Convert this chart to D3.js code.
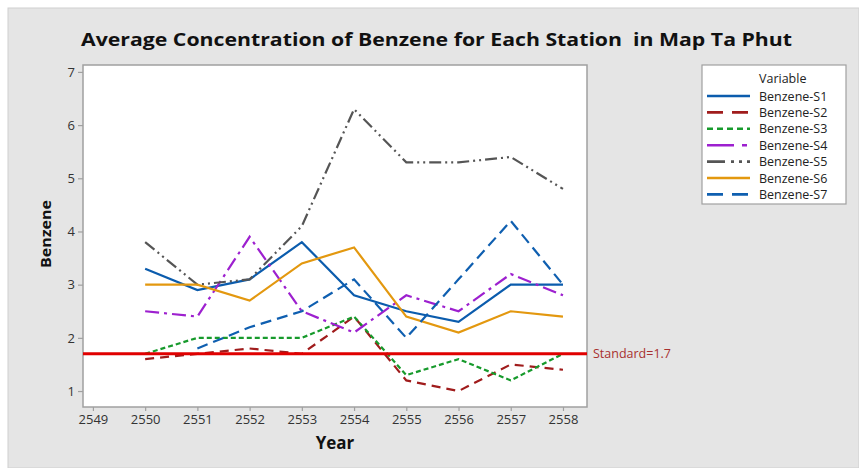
<!DOCTYPE html>
<html>
<head>
<meta charset="utf-8">
<script src="https://cdn.jsdelivr.net/npm/d3@7"></script>
<style>
  body { margin: 0; background: #fff; }
  text { font-family: "Open Sans", "Noto Sans", sans-serif; }
</style>
</head>
<body>
<script>
'use strict';

// chart values
var years = [2550, 2551, 2552, 2553, 2554, 2555, 2556, 2557, 2558];
var yearTicks = [2549, 2550, 2551, 2552, 2553, 2554, 2555, 2556, 2557, 2558];
var valueTicks = [1, 2, 3, 4, 5, 6, 7];
var seriesNames = ['Benzene-S1', 'Benzene-S2', 'Benzene-S3', 'Benzene-S4', 'Benzene-S5', 'Benzene-S6', 'Benzene-S7'];
var s1 = [3.3, 2.9, 3.1, 3.8, 2.8, 2.5, 2.3, 3.0, 3.0];
var s2 = [1.6, 1.7, 1.8, 1.7, 2.4, 1.2, 1.0, 1.5, 1.4];
var s3 = [1.7, 2.0, 2.0, 2.0, 2.4, 1.3, 1.6, 1.2, 1.7];
var s4 = [2.5, 2.4, 3.9, 2.5, 2.1, 2.8, 2.5, 3.2, 2.8];
var s5 = [3.8, 3.0, 3.1, 4.1, 6.3, 5.3, 5.3, 5.4, 4.8];
var s6 = [3.0, 3.0, 2.7, 3.4, 3.7, 2.4, 2.1, 2.5, 2.4];
var s7 = [null, 1.8, 2.2, 2.5, 3.1, 2.0, 3.1, 4.2, 3.0];
var standard = 1.7;

(function() {
    var width = 859;
    var height = 468;

    var colors = ['#0b5cad', '#a01c1c', '#179a2c', '#9d20cf', '#555555', '#e3980f', '#0f5fb0'];
    var dashes = ['none', '9,6', '5,3', '14,5,3,5', '12,4,2,4,2,4', 'none', '11,6'];
    var legendDashes = ['none', '16,9', '6,4', '27,8,5,8', '18,6,3,5,3,5', 'none', '16,9'];
    var allSeries = [s1, s2, s3, s4, s5, s6, s7];

    var svg = d3.select('body')
                .append('svg')
                .attr('width', width)
                .attr('height', height);

    // gray panel
    svg.append('rect')
        .attr('x', 8).attr('y', 8)
        .attr('width', width - 8).attr('height', height - 8)
        .attr('fill', '#e5e5e5')
        .attr('stroke', '#cfcfcf');

    var x = d3.scaleLinear().domain([2548.81, 2558.46]).range([83, 587]);
    var y = d3.scaleLinear().domain([0.7, 7.13]).range([407, 65]);

    // plot area
    svg.append('rect')
        .attr('x', x.range()[0]).attr('y', y.range()[1])
        .attr('width', x.range()[1] - x.range()[0])
        .attr('height', y.range()[0] - y.range()[1])
        .attr('fill', '#fff')
        .attr('stroke', '#a0a0a0')
        .attr('stroke-width', 1.5);

    var yAxis = svg.append('g')
        .attr('transform', 'translate(83,0)')
        .call(d3.axisLeft(y).tickValues(valueTicks).tickFormat(d3.format('d')).tickSize(5).tickPadding(3).tickSizeOuter(0));
    var xAxis = svg.append('g')
        .attr('transform', 'translate(0,407)')
        .call(d3.axisBottom(x).tickValues(yearTicks).tickFormat(d3.format('d')).tickSize(4).tickPadding(4).tickSizeOuter(0));

    [xAxis, yAxis].forEach(function(a) {
        a.select('.domain').remove();
        a.selectAll('line').attr('stroke', '#a0a0a0').attr('stroke-width', 1.2);
        a.selectAll('text').attr('fill', '#333').style('font-size', '13px');
    });

    var line = d3.line()
        .defined(function(d) { return d.v != null; })
        .x(function(d) { return x(d.year); })
        .y(function(d) { return y(d.v); });

    allSeries.forEach(function(vals, i) {
        var pts = years.map(function(yr, j) { return { year: yr, v: vals[j] }; });
        svg.append('path')
            .datum(pts)
            .attr('fill', 'none')
            .attr('stroke', colors[i])
            .attr('stroke-width', 2.2)
            .attr('stroke-dasharray', dashes[i])
            .attr('d', line);
    });

    // standard reference line
    svg.append('line')
        .attr('x1', x.range()[0]).attr('x2', x.range()[1])
        .attr('y1', y(standard)).attr('y2', y(standard))
        .attr('stroke', '#e00000')
        .attr('stroke-width', 3);
    svg.append('text')
        .attr('x', 593).attr('y', y(standard) + 4.5)
        .attr('fill', '#a8302f')
        .style('font-size', '12.5px')
        .text('Standard=' + standard);

    // legend
    var lg = svg.append('g');
    lg.append('rect')
        .attr('x', 702).attr('y', 65)
        .attr('width', 144).attr('height', 139)
        .attr('fill', '#fff')
        .attr('stroke', '#a0a0a0')
        .attr('stroke-width', 1.2);
    lg.append('text')
        .attr('x', 759).attr('y', 83)
        .attr('fill', '#222')
        .style('font-size', '12.5px')
        .text('Variable');
    seriesNames.forEach(function(name, i) {
        var cy = 96 + i * 16.4;
        lg.append('line')
            .attr('x1', 707).attr('x2', 750)
            .attr('y1', cy).attr('y2', cy)
            .attr('stroke', colors[i])
            .attr('stroke-width', 2.6)
            .attr('stroke-dasharray', legendDashes[i]);
        lg.append('text')
            .attr('x', 759).attr('y', cy + 4.5)
            .attr('fill', '#222')
            .style('font-size', '12.5px')
            .text(name);
    });

    // titles
    svg.append('text')
        .attr('x', 81).attr('y', 46)
        .attr('textLength', 711)
        .attr('lengthAdjust', 'spacingAndGlyphs')
        .style('font-size', '18px')
        .style('font-weight', 'bold')
        .attr('fill', '#111')
        .attr('xml:space', 'preserve')
        .text('Average Concentration of Benzene for Each Station  in Map Ta Phut');

    svg.append('text')
        .attr('x', 335).attr('y', 449)
        .attr('text-anchor', 'middle')
        .style('font-size', '17px')
        .style('font-weight', 'bold')
        .attr('fill', '#111')
        .text('Year');

    svg.append('text')
        .attr('transform', 'translate(51,234) rotate(-90)')
        .attr('text-anchor', 'middle')
        .attr('textLength', 68)
        .attr('lengthAdjust', 'spacingAndGlyphs')
        .style('font-size', '15px')
        .style('font-weight', 'bold')
        .attr('fill', '#111')
        .text('Benzene');
})();
</script>
</body>
</html>
